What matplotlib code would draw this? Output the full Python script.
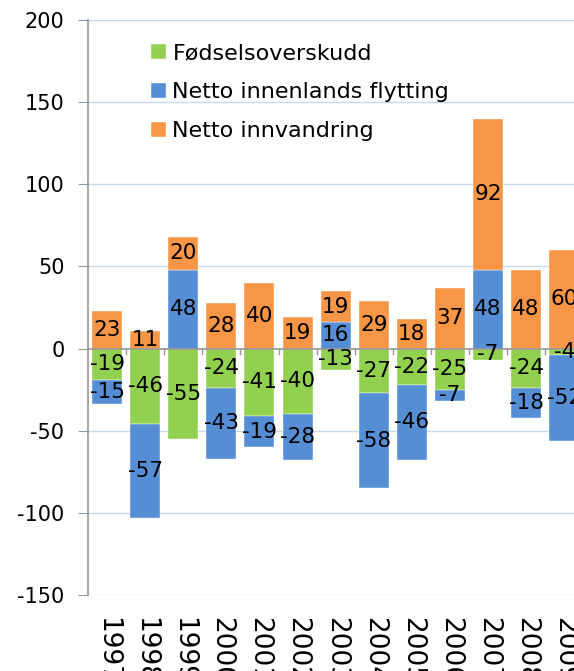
import matplotlib.pyplot as plt
import numpy as np

plt.rcParams["axes.unicode_minus"] = False

years = ["1997", "1998", "1999", "2000", "2001", "2002", "2003",
         "2004", "2005", "2006", "2007", "2008", "2009"]
fodsel = [-19, -46, -55, -24, -41, -40, -13, -27, -22, -25, -7, -24, -4]
innenlands = [-15, -57, 48, -43, -19, -28, 16, -58, -46, -7, 48, -18, -52]
innvandring = [23, 11, 20, 28, 40, 19, 19, 29, 18, 37, 92, 48, 60]

series = [("Fødselsoverskudd", fodsel, "#92d050"),
          ("Netto innenlands flytting", innenlands, "#558ed5"),
          ("Netto innvandring", innvandring, "#f79646")]

fig = plt.figure(figsize=(5.74, 6.71), dpi=100)
ax = fig.add_axes([88/574, 1-595/671, 1-88/574, (595-20)/671])

x = np.arange(len(years))
pos_base = np.zeros(len(years))
neg_base = np.zeros(len(years))
width = 0.79

for name, vals, col in series:
    vals = np.array(vals, dtype=float)
    bottom = np.where(vals >= 0, pos_base, neg_base)
    ax.bar(x, vals, width, bottom=bottom, color=col, label=name, zorder=2,
           edgecolor="white", linewidth=0.3)
    for xi, v, b in zip(x, vals, bottom):
        ax.text(xi, b + v/2, "%d" % v, ha="center", va="center",
                fontsize=15.5, color="black", zorder=3)
    pos_base = np.where(vals >= 0, pos_base + vals, pos_base)
    neg_base = np.where(vals < 0, neg_base + vals, neg_base)

ax.set_ylim(-150, 200)
ax.set_xlim(-0.5, (574-88)/38.1 - 0.5)
ax.set_yticks(np.arange(-150, 201, 50))
for yv in np.arange(-150, 201, 50):
    if yv != 0:
        ax.axhline(yv, color="#c6d9f1", linewidth=1, zorder=1)
ax.axhline(0, color="#969696", linewidth=1.2, zorder=2.5)

for s in ["top", "right", "bottom"]:
    ax.spines[s].set_visible(False)
ax.spines["left"].set_color("#969696")
ax.spines["left"].set_linewidth(1.2)

ax.tick_params(axis="y", length=7, color="#969696", labelsize=15, pad=10)
ax.set_xticks(x)
ax.set_xticklabels(years, rotation=-90, fontsize=19, va="top")
ax.tick_params(axis="x", length=0, pad=16)
for b in np.arange(len(years)) + 0.5:
    ax.plot([b, b], [0, -3], color="#969696", linewidth=1, zorder=2.5,
            clip_on=False)

ax.legend(loc="upper left", bbox_to_anchor=(0.112, 0.975), frameon=False,
          fontsize=16, handlelength=0.65, handleheight=0.65,
          handletextpad=0.3, labelspacing=0.85, borderaxespad=0)

plt.savefig("out.png", dpi=100)
